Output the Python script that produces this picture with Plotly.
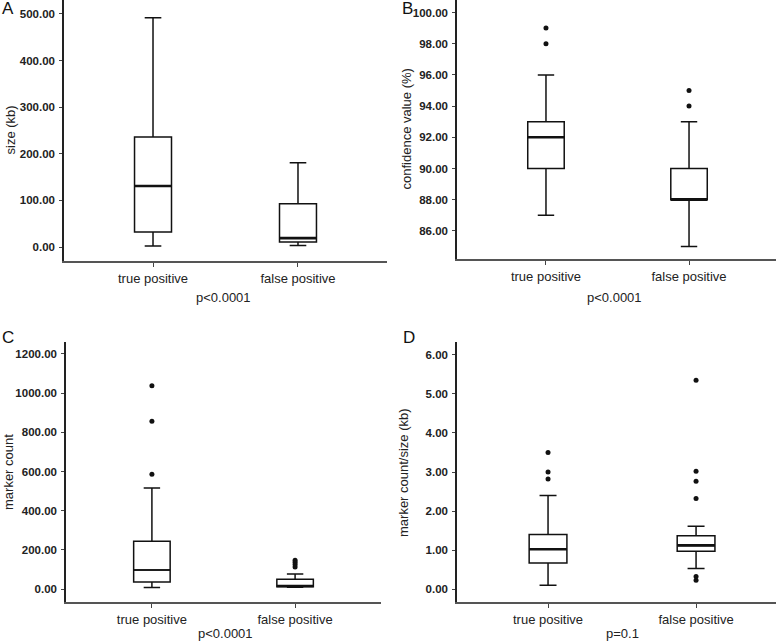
import plotly.graph_objects as go

W, H = 778, 642

groups = ["true positive", "false positive"]

# A: size (kb)
size_q1 = [32, 11]
size_med = [131, 19]
size_q3 = [236, 93]
size_lo = [2, 3]
size_hi = [492, 181]
size_out = [[], []]

# B: confidence value (%)
conf_q1 = [90, 88]
conf_med = [92, 88]
conf_q3 = [93, 90]
conf_lo = [87, 85]
conf_hi = [96, 93]
conf_out = [[98, 99], [94, 95]]

# C: marker count
mark_q1 = [36, 12]
mark_med = [97, 16]
mark_q3 = [244, 50]
mark_lo = [8, 9]
mark_hi = [516, 77]
mark_out = [[586, 856, 1038], [112, 125, 137, 147]]

# D: marker count/size (kb)
dens_q1 = [0.67, 0.97]
dens_med = [1.02, 1.12]
dens_q3 = [1.40, 1.37]
dens_lo = [0.10, 0.53]
dens_hi = [2.40, 1.61]
dens_out = [[2.82, 3.0, 3.5], [0.23, 0.32, 2.32, 2.76, 3.02, 5.35]]

panels = [
    dict(q1=size_q1, med=size_med, q3=size_q3, lo=size_lo, hi=size_hi, out=size_out,
         title="size (kb)", p="p<0.0001", letter="A",
         ticks=[0, 100, 200, 300, 400, 500], yr=[-30, 530], xr=[-0.614, 1.614],
         xd=[64, 387], yd=[0, 261], ann=(10, 223, 297, 8, 9), medw=[2.6, 2.6]),
    dict(q1=conf_q1, med=conf_med, q3=conf_q3, lo=conf_lo, hi=conf_hi, out=conf_out,
         title="confidence value (%)", p="p<0.0001", letter="B",
         ticks=[86, 88, 90, 92, 94, 96, 98, 100], yr=[84.2, 100.8], xr=[-0.622, 1.608],
         xd=[457, 776], yd=[0, 259], ann=(406, 614, 297, 407, 9), medw=[2.6, 2.6]),
    dict(q1=mark_q1, med=mark_med, q3=mark_q3, lo=mark_lo, hi=mark_hi, out=mark_out,
         title="marker count", p="p<0.0001", letter="C",
         ticks=[0, 200, 400, 600, 800, 1000, 1200], yr=[-66, 1261], xr=[-0.60, 1.60],
         xd=[66, 381], yd=[342, 602], ann=(8, 225, 633, 8, 337), medw=[1.4, 2.6]),
    dict(q1=dens_q1, med=dens_med, q3=dens_q3, lo=dens_lo, hi=dens_hi, out=dens_out,
         title="marker count/size (kb)", p="p=0.1", letter="D",
         ticks=[0, 1, 2, 3, 4, 5, 6], yr=[-0.33, 6.33], xr=[-0.615, 1.54],
         xd=[457, 776], yd=[342, 602], ann=(403, 622, 633, 409, 337), medw=[2.6, 2.6]),
]

box_w = 0.255
fig = go.Figure()
layout = {}
annotations = []
tick_font = dict(family="Liberation Sans, Arial, sans-serif", size=11.5,
                 color="#222222", weight="bold")
text_font = dict(family="Liberation Sans, Arial, sans-serif", size=13, color="#222222")

for i, pn in enumerate(panels):
    n = "" if i == 0 else str(i + 1)
    xa, ya = "x" + n, "y" + n
    fig.add_trace(go.Box(
        x=[0, 1], q1=pn["q1"], median=pn["med"], q3=pn["q3"],
        lowerfence=pn["lo"], upperfence=pn["hi"],
        boxpoints=False, width=box_w, whiskerwidth=0.45,
        fillcolor="white", line=dict(color="#111111", width=1.5),
        xaxis=xa, yaxis=ya, showlegend=False, hoverinfo="skip",
    ))
    # thicker median lines
    for g in range(2):
        fig.add_trace(go.Scatter(
            x=[g - box_w / 2, g + box_w / 2], y=[pn["med"][g]] * 2, mode="lines",
            line=dict(color="#111111", width=pn["medw"][g]),
            xaxis=xa, yaxis=ya, showlegend=False, hoverinfo="skip",
        ))
        if pn["out"][g]:
            fig.add_trace(go.Scatter(
                x=[g] * len(pn["out"][g]), y=pn["out"][g], mode="markers",
                marker=dict(color="#111111", size=5),
                xaxis=xa, yaxis=ya, showlegend=False, hoverinfo="skip",
            ))

    layout["xaxis" + n] = dict(
        domain=[pn["xd"][0] / W, pn["xd"][1] / W], anchor=ya, range=pn["xr"],
        tickvals=[0, 1], ticktext=groups, ticks="outside", ticklen=4, tickcolor="#444444",
        showline=True, linecolor="#555555", linewidth=1.5, showgrid=False, zeroline=False,
        tickfont=text_font, ticklabelstandoff=1, fixedrange=True,
    )
    layout["yaxis" + n] = dict(
        domain=[1 - pn["yd"][1] / H, 1 - pn["yd"][0] / H], anchor=xa, range=pn["yr"],
        tickvals=pn["ticks"], tickformat=".2f", ticks="outside", ticklen=3, tickcolor="#444444",
        showline=True, linecolor="#222222", linewidth=1.5, showgrid=False, zeroline=False,
        tickfont=tick_font, ticklabelstandoff=2, fixedrange=True,
    )

    tx, px_, py, lx, ly = pn["ann"]
    ymid = (pn["yd"][0] + pn["yd"][1]) / 2
    annotations.append(dict(x=tx / W, y=1 - ymid / H, xref="paper", yref="paper",
                            text=pn["title"], textangle=-90, showarrow=False,
                            font=text_font, xanchor="center", yanchor="middle"))
    annotations.append(dict(x=px_ / W, y=1 - py / H, xref="paper", yref="paper",
                            text=pn["p"], showarrow=False, font=text_font,
                            xanchor="center", yanchor="middle"))
    annotations.append(dict(x=lx / W, y=1 - ly / H, xref="paper", yref="paper",
                            text=pn["letter"], showarrow=False,
                            font=dict(family="Liberation Sans, Arial, sans-serif", size=17, color="#111111"),
                            xanchor="center", yanchor="middle"))

fig.update_layout(
    width=W, height=H, margin=dict(l=0, r=0, t=0, b=0),
    paper_bgcolor="white", plot_bgcolor="white",
    annotations=annotations, **layout,
)

# page body has a default margin; drop it so the figure fills the window
fig.write_html("out.html", config={"displayModeBar": False},
               post_script="document.body.style.margin='0';")
